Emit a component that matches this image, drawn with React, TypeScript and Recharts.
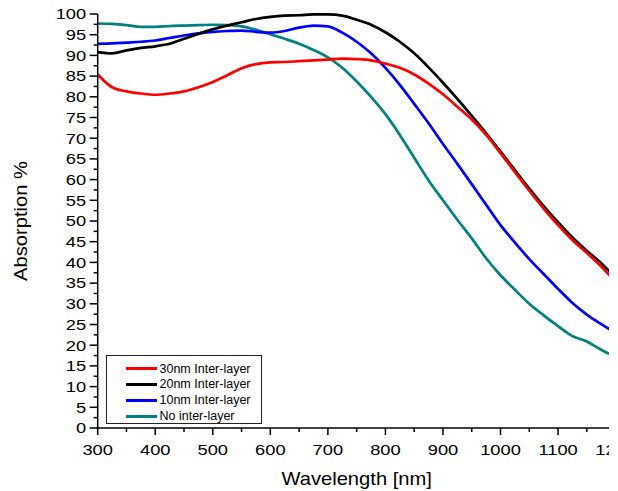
import { LineChart, Line, XAxis, YAxis, Legend } from "recharts";

// wavelength in nm, absorption in %
const wavelength = [
  300, 325, 350, 375, 400, 425, 450, 475, 500, 525, 550, 575, 600, 625, 650, 675, 700, 725, 750,
  775, 800, 825, 850, 875, 900, 925, 950, 975, 1000, 1025, 1050, 1075, 1100, 1125, 1150, 1175, 1200,
];
const inter30 = [
  85.4, 82.3, 81.3, 80.8, 80.5, 80.8, 81.3, 82.3, 83.6, 85.2, 86.9, 87.9, 88.3, 88.4, 88.6, 88.8, 89.0, 89.2, 89.1,
  88.8, 88.0, 87.0, 85.4, 83.2, 80.6, 77.6, 74.5, 70.8, 66.4, 61.8, 57.3, 53.0, 49.0, 45.4, 42.3, 39.0, 35.3,
];
const inter20 = [
  90.8, 90.5, 91.2, 91.8, 92.2, 92.8, 94.0, 95.2, 96.3, 97.2, 98.0, 98.8, 99.3, 99.6, 99.7, 99.9, 99.9, 99.6, 98.6,
  97.4, 95.6, 93.3, 90.5, 87.1, 83.4, 79.5, 75.4, 71.2, 66.8, 62.3, 57.8, 53.6, 49.7, 46.0, 42.8, 39.8, 36.3,
];
const inter10 = [
  92.8, 92.9, 93.1, 93.3, 93.6, 94.2, 94.8, 95.3, 95.7, 95.9, 96.0, 95.7, 95.5, 95.9, 96.7, 97.2, 97.0, 95.5, 93.3,
  90.5, 87.0, 82.9, 78.3, 73.6, 68.6, 63.8, 58.9, 53.9, 49.0, 44.8, 40.8, 37.2, 33.6, 30.2, 27.4, 25.1, 23.0,
];
const noInter = [
  97.7, 97.6, 97.3, 96.9, 96.9, 97.1, 97.2, 97.3, 97.4, 97.3, 97.0, 96.2, 95.1, 94.0, 92.8, 91.3, 89.5, 87.0, 83.7,
  80.0, 75.8, 70.8, 65.3, 59.8, 55.0, 50.3, 45.8, 41.0, 36.9, 33.4, 30.0, 27.2, 24.6, 22.2, 20.9, 18.9, 17.2,
];

const xTicks = [
  300, 350, 400, 450, 500, 550, 600, 650, 700, 750, 800, 850, 900, 950, 1000, 1050, 1100, 1150, 1200,
];
const yTicks = [
  0, 2.5, 5, 7.5, 10, 12.5, 15, 17.5, 20, 22.5, 25, 27.5, 30, 32.5, 35, 37.5, 40, 42.5, 45, 47.5, 50,
  52.5, 55, 57.5, 60, 62.5, 65, 67.5, 70, 72.5, 75, 77.5, 80, 82.5, 85, 87.5, 90, 92.5, 95, 97.5, 100,
];

const FONT = '"Liberation Sans", Arial, sans-serif';

const legendOrder = [
  { key: "inter30", name: "30nm Inter-layer", color: "#ff0000" },
  { key: "inter20", name: "20nm Inter-layer", color: "#000000" },
  { key: "inter10", name: "10nm Inter-layer", color: "#0000ff" },
  { key: "noInter", name: "No inter-layer", color: "#008080" },
];
// drawn back to front, red ends up on top
const drawOrder = ["noInter", "inter10", "inter20", "inter30"];

const data = wavelength.map((w, i) => ({
  w,
  inter30: inter30[i],
  inter20: inter20[i],
  inter10: inter10[i],
  noInter: noInter[i],
}));

const BottomTick = (props: any) => {
  const { x, y, payload } = props;
  const major = payload.value % 100 === 0;
  return (
    <g>
      <line x1={x} x2={x} y1={y} y2={y + (major ? 7 : 4)} stroke="#000" strokeWidth={1.5} />
      {major && (
        <text
          transform={`translate(${x},${y + 27}) scale(1.22,1)`}
          textAnchor="middle"
          fontSize={15}
          fontFamily={FONT}
          fill="#000"
        >
          {payload.value}
        </text>
      )}
    </g>
  );
};

const TopTick = (props: any) => {
  const { x, y } = props;
  return <line x1={x} x2={x} y1={y} y2={y - 2} stroke="#000" strokeWidth={1.2} />;
};

const LeftTick = (props: any) => {
  const { x, y, payload } = props;
  const major = payload.value % 5 === 0;
  return (
    <g>
      <line x1={x - (major ? 8 : 4)} x2={x} y1={y} y2={y} stroke="#000" strokeWidth={1.5} />
      {major && (
        <text
          transform={`translate(${x - 11.5},${y}) scale(1.22,1)`}
          dy="0.355em"
          textAnchor="end"
          fontSize={15}
          fontFamily={FONT}
          fill="#000"
        >
          {payload.value}
        </text>
      )}
    </g>
  );
};

const XTitle = (props: any) => {
  const { x, y, width } = props.viewBox;
  return (
    <text
      transform={`translate(${x + width / 2},${y + 57}) scale(1.12,1)`}
      textAnchor="middle"
      fontSize={18}
      fontFamily={FONT}
      fill="#000"
    >
      Wavelength [nm]
    </text>
  );
};

const YTitle = (props: any) => {
  const { y, height } = props.viewBox;
  return (
    <text
      transform={`translate(19,${y + height / 2}) rotate(-90) scale(1.12,1)`}
      textAnchor="middle"
      fontSize={18}
      fontFamily={FONT}
      fill="#000"
    >
      Absorption %
    </text>
  );
};

const LegendBox = () => (
  <div
    style={{
      width: 156,
      height: 69,
      boxSizing: "border-box",
      border: "1px solid #222",
      background: "#fff",
      paddingTop: 5,
      fontFamily: FONT,
      fontSize: 12.5,
      color: "#000",
    }}
  >
    {legendOrder.map((s) => (
      <div key={s.key} style={{ display: "flex", alignItems: "center", height: 15.8 }}>
        <div style={{ width: 31, height: 3, background: s.color, marginLeft: 19, marginRight: 2.5 }} />
        <span style={{ lineHeight: 1 }}>{s.name}</span>
      </div>
    ))}
  </div>
);

export default function App() {
  return (
    <div style={{ width: 601, height: 491, marginTop: -8, overflow: "hidden" }}>
      <LineChart width={620} height={491} data={data} margin={{ top: 14, right: 12.4, left: 0, bottom: 0 }}>
        <XAxis
          dataKey="w"
          type="number"
          domain={[300, 1200]}
          ticks={xTicks}
          interval={0}
          allowDataOverflow
          height={63}
          tickSize={0}
          tickMargin={0}
          tickLine={false}
          tick={<BottomTick />}
          axisLine={{ stroke: "#000", strokeWidth: 1.5 }}
          label={{ content: (p: any) => <XTitle {...p} /> }}
        />
        <XAxis
          xAxisId="top"
          orientation="top"
          type="number"
          domain={[300, 1200]}
          ticks={xTicks}
          interval={0}
          height={0}
          tickSize={0}
          tickMargin={0}
          tickLine={false}
          tick={<TopTick />}
          axisLine={{ stroke: "#000", strokeWidth: 1.5 }}
        />
        <YAxis
          type="number"
          domain={[0, 100]}
          ticks={yTicks}
          interval={0}
          width={89.7}
          tickSize={0}
          tickMargin={0}
          tickLine={false}
          tick={<LeftTick />}
          axisLine={{ stroke: "#000", strokeWidth: 1.5 }}
          label={{ content: (p: any) => <YTitle {...p} /> }}
        />
        <Legend
          layout="vertical"
          align="center"
          verticalAlign="middle"
          wrapperStyle={{ left: 98, top: 355, width: 156, height: 69 }}
          content={() => <LegendBox />}
        />
        {drawOrder.map((k) => {
          const s = legendOrder.find((d) => d.key === k)!;
          return (
            <Line
              key={k}
              type="monotone"
              dataKey={k}
              name={s.name}
              stroke={s.color}
              strokeWidth={2.7}
              dot={false}
              activeDot={false}
              isAnimationActive={false}
            />
          );
        })}
      </LineChart>
    </div>
  );
}
